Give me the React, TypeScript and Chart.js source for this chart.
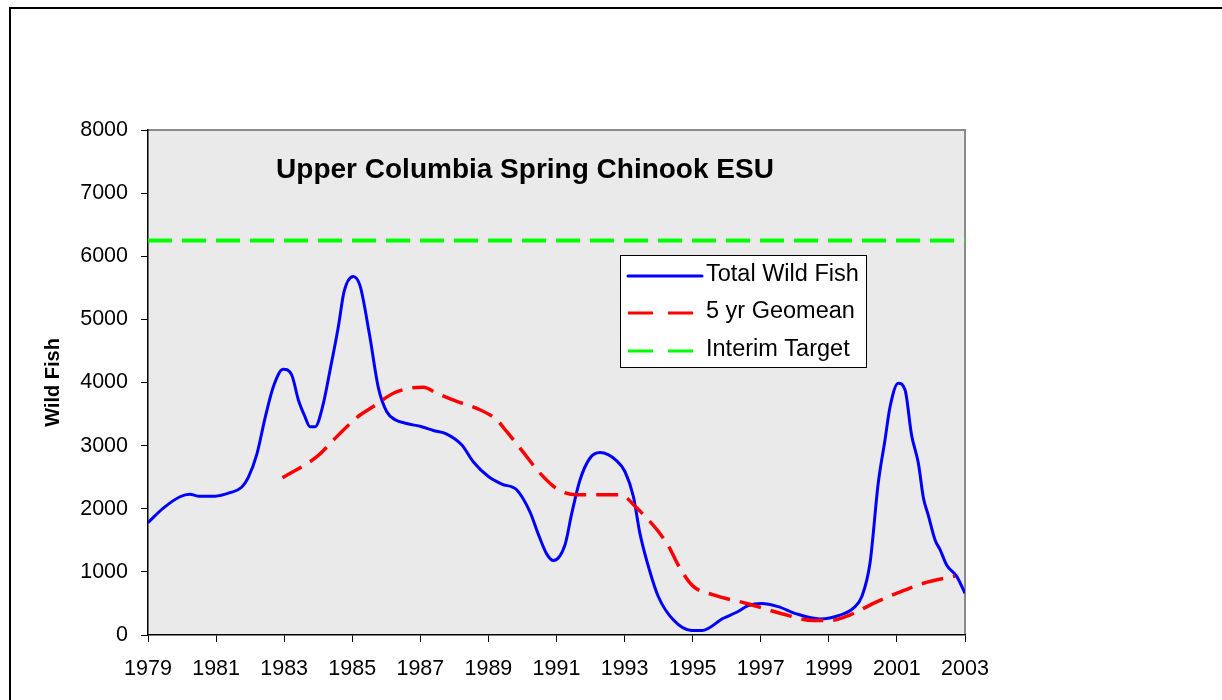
import React, { useEffect, useRef } from "react";
import { Chart, registerables } from "chart.js";

Chart.register(...registerables);

const titleText = "Upper Columbia Spring Chinook ESU";
const yAxisTitle = "Wild Fish";
const xTickMin = 1979;
const xTickMax = 2003;
const xTickStep = 2;
const yTickMin = 0;
const yTickMax = 8000;
const yTickStep = 1000;

const wildYears = [
  1979.0, 1979.45, 1979.94, 1980.23, 1980.48, 1980.97, 1981.41, 1981.75, 1981.95, 1982.2,
  1982.44, 1982.68, 1982.97, 1983.22, 1983.42, 1983.61, 1983.76, 1983.91, 1984.13, 1984.35,
  1984.59, 1984.76, 1985.03, 1985.23, 1985.5, 1985.77, 1986.01, 1986.26, 1986.6, 1987.04,
  1987.38, 1987.73, 1988.22, 1988.56, 1989.0, 1989.39, 1989.83, 1990.22, 1990.47, 1990.71,
  1990.91, 1991.25, 1991.45, 1991.69, 1991.98, 1992.28, 1992.77, 1993.01, 1993.26, 1993.45,
  1993.73, 1993.99, 1994.43, 1994.97, 1995.27, 1995.9, 1996.29, 1996.63, 1997.03, 1997.51,
  1998.05, 1998.74, 1999.33, 1999.72, 1999.97, 2000.21, 2000.45, 2000.65, 2000.8, 2001.04,
  2001.24, 2001.43, 2001.63, 2001.78, 2001.92, 2002.12, 2002.27, 2002.46, 2002.76, 2003.0,
];
const wildFish = [
  1780, 2010, 2190, 2230, 2200, 2200, 2255, 2340, 2500, 2870,
  3440, 3930, 4210, 4120, 3720, 3460, 3300, 3300, 3620, 4200,
  4880, 5440, 5680, 5530, 4780, 3910, 3540, 3410, 3350, 3300,
  3240, 3195, 3010, 2740, 2510, 2390, 2300, 1950, 1590, 1285,
  1180, 1430, 1930, 2455, 2800, 2890, 2760, 2590, 2190, 1610,
  1030, 610, 240, 70, 70, 265, 360, 465, 500, 450,
  335, 255, 315, 425, 610, 1140, 2400, 3090, 3620, 3990,
  3880, 3170, 2720, 2165, 1900, 1505, 1350, 1110, 925, 660,
];

const geoYears = [
  1982.95, 1983.96, 1984.45, 1984.84, 1985.23, 1985.62, 1986.21, 1986.7, 1987.09, 1987.48,
  1988.07, 1988.66, 1989.24, 1989.54, 1989.93, 1990.52, 1991.03, 1991.59, 1992.87, 1993.36,
  1994.24, 1994.63, 1995.02, 1995.61, 1996.59, 1997.57, 1998.55, 1999.04, 1999.63, 2000.31,
  2000.99, 2001.78, 2002.71,
];
const geoMean = [
  2490, 2825, 3090, 3300, 3485, 3620, 3830, 3910, 3925, 3830,
  3700, 3590, 3410, 3220, 2960, 2560, 2310, 2220, 2220, 2010,
  1455, 1055, 770, 635, 500, 345, 230, 230, 320, 500,
  660, 820, 935,
];

const targetYears = [1979, 2003];
const targetValues = [6250, 6250];

const seriesLabels = ["Total Wild Fish", "5 yr Geomean", "Interim Target"];

const FONT = "'Liberation Sans', Arial, sans-serif";

function toPoints(xs: number[], ys: number[]) {
  return xs.map((x, i) => ({ x, y: ys[i] }));
}

const backgroundPlugin = {
  id: "bgFrame",
  beforeDraw(chart: any) {
    const { ctx, chartArea } = chart;
    ctx.save();
    ctx.fillStyle = "#ffffff";
    ctx.fillRect(0, 0, chart.width, chart.height);
    // outer frame
    ctx.strokeStyle = "#000000";
    ctx.lineWidth = 2;
    ctx.strokeRect(10, 8, chart.width + 20, chart.height + 20);
    // plot area
    ctx.fillStyle = "#eaeaea";
    ctx.fillRect(chartArea.left, chartArea.top, chartArea.right - chartArea.left, chartArea.bottom - chartArea.top);
    ctx.strokeStyle = "#8a8a8a";
    ctx.lineWidth = 2;
    ctx.beginPath();
    ctx.moveTo(chartArea.left, chartArea.top);
    ctx.lineTo(chartArea.right, chartArea.top);
    ctx.lineTo(chartArea.right, chartArea.bottom);
    ctx.stroke();
    ctx.restore();
  },
};

const overlayPlugin = {
  id: "overlay",
  afterDatasetsDraw(chart: any) {
    const { ctx, chartArea } = chart;
    ctx.save();
    // title inside plot
    ctx.fillStyle = "#000";
    ctx.font = `bold 28px ${FONT}`;
    ctx.textAlign = "center";
    ctx.textBaseline = "alphabetic";
    ctx.fillText(titleText, chartArea.left + 377, chartArea.top + 48);

    // legend box
    const bx = chartArea.left + 472;
    const by = chartArea.top + 125;
    const bw = 246;
    const bh = 112;
    ctx.fillStyle = "#ffffff";
    ctx.fillRect(bx, by, bw, bh);
    ctx.strokeStyle = "#000";
    ctx.lineWidth = 1;
    ctx.strokeRect(bx + 0.5, by + 0.5, bw, bh);
    ctx.font = `23.5px ${FONT}`;
    ctx.textAlign = "left";
    ctx.textBaseline = "middle";
    const rows = [21, 58, 96];
    chart.data.datasets.forEach((ds: any, i: number) => {
      const y = by + rows[i];
      ctx.strokeStyle = ds.borderColor;
      ctx.lineWidth = 3;
      ctx.lineCap = i === 0 ? "round" : "butt";
      ctx.setLineDash(i === 0 ? [] : [25, 15]);
      ctx.beginPath();
      ctx.moveTo(bx + 8, y);
      ctx.lineTo(bx + 82, y);
      ctx.stroke();
      ctx.setLineDash([]);
      ctx.fillStyle = "#000";
      ctx.fillText(ds.label, bx + 86, y - 1);
    });
    ctx.restore();
  },
};

export default function App() {
  const ref = useRef<HTMLCanvasElement | null>(null);

  useEffect(() => {
    document.body.style.margin = "0";
    document.body.style.overflow = "hidden";
    const canvas = ref.current;
    if (!canvas) return;
    const chart = new Chart(canvas, {
      type: "line",
      data: {
        datasets: [
          {
            label: seriesLabels[0],
            data: toPoints(wildYears, wildFish),
            borderColor: "#0000ff",
            borderWidth: 3,
            pointRadius: 0,
            cubicInterpolationMode: "monotone",
            fill: false,
            order: 2,
          },
          {
            label: seriesLabels[1],
            data: toPoints(geoYears, geoMean),
            borderColor: "#ff0000",
            borderWidth: 3.5,
            borderDash: [22, 10],
            pointRadius: 0,
            cubicInterpolationMode: "monotone",
            fill: false,
            order: 1,
          },
          {
            label: seriesLabels[2],
            data: toPoints(targetYears, targetValues),
            borderColor: "#00ff00",
            borderWidth: 4,
            borderDash: [24, 10],
            pointRadius: 0,
            fill: false,
            order: 0,
          },
        ],
      },
      options: {
        responsive: false,
        animation: false,
        events: [],
        layout: { padding: { top: 130, right: 257, left: 0, bottom: 0 } },
        plugins: {
          legend: { display: false },
          tooltip: { enabled: false },
          title: { display: false },
        },
        scales: {
          x: {
            type: "linear",
            min: xTickMin,
            max: xTickMax,
            afterFit: (scale: any) => {
              scale.height = 65;
            },
            ticks: {
              stepSize: xTickStep,
              autoSkip: false,
              maxRotation: 0,
              color: "#000",
              padding: 14,
              font: { family: FONT, size: 21.5 },
              callback: (v: any) => String(v),
            },
            grid: {
              drawOnChartArea: false,
              drawTicks: true,
              tickLength: 7,
              color: "#000",
            },
            border: { display: true, color: "#000", width: 1.5 },
          },
          y: {
            type: "linear",
            min: yTickMin,
            max: yTickMax,
            afterFit: (scale: any) => {
              scale.width = 148;
            },
            ticks: {
              stepSize: yTickStep,
              color: "#000",
              padding: 13,
              font: { family: FONT, size: 21.5 },
              callback: (v: any) => String(v),
            },
            grid: {
              drawOnChartArea: false,
              drawTicks: true,
              tickLength: 7,
              color: "#000",
            },
            border: { display: true, color: "#000", width: 1.5 },
            title: {
              display: true,
              text: yAxisTitle,
              color: "#000",
              font: { family: FONT, size: 20, weight: "bold" },
              padding: { top: 41, bottom: 0 },
            },
          },
        },
      },
      plugins: [backgroundPlugin, overlayPlugin],
    });
    return () => chart.destroy();
  }, []);

  return (
    <div style={{ position: "absolute", left: 0, top: 0, width: 1222, height: 700 }}>
      <canvas ref={ref} width={1222} height={700} style={{ display: "block" }} />
    </div>
  );
}
